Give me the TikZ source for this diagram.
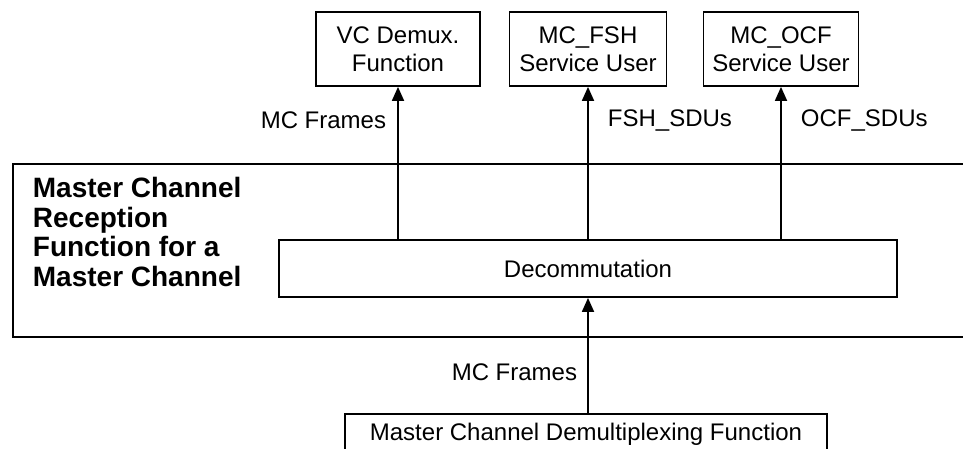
\documentclass[tikz,border=0pt]{standalone}
\usepackage{fontspec}
\setmainfont{Liberation Sans}
\usetikzlibrary{arrows.meta}

\begin{document}
\begin{tikzpicture}[x=1pt,y=-1pt,line width=1.8pt,
	box/.style={draw, rectangle, inner sep=0pt, align=center, font=\fontsize{24}{28}\selectfont},
	flow/.style={-{Triangle[length=14pt,width=12pt]}},
	lbl/.style={font=\fontsize{24}{28}\selectfont, inner sep=0pt}]
	\useasboundingbox (0,0) rectangle (963,449);
	\clip (0,0) rectangle (963,449);
	
	\node[box, minimum width=164pt, minimum height=74pt] (vcdemux) at (398,49) {VC Demux.\\Function};
	\node[box, minimum width=157pt, minimum height=74pt] (fshuser) at (588,49) {MC\_FSH\\Service User};
	\node[box, minimum width=155pt, minimum height=74pt] (ocfuser) at (781,49) {MC\_OCF\\Service User};
	
	% reception function, runs off the right edge
	\node[draw, inner sep=0pt, minimum width=1000pt, minimum height=173pt, anchor=north west] (mcrecept) at (12,163) {};
	\node[anchor=west, align=left, inner sep=0pt, font=\bfseries\fontsize{28}{29.5}\selectfont] (mctitle) at (32,232) {Master Channel\\Reception\\Function for a\\Master Channel};
	
	\node[box, minimum width=618pt, minimum height=57pt] (decomm) at (588,268.5) {Decommutation};
	
	\node[box, minimum width=482pt, minimum height=40pt, anchor=north] (mcdemux) at (586,413) {Master Channel Demultiplexing Function};
	
	\draw[flow] (decomm.north -| vcdemux) -- node[lbl, pos=.78, left=11pt] {MC Frames} (vcdemux);
	\draw[flow] (decomm.north -| fshuser) -- node[lbl, pos=.78, right=19pt] {FSH\_SDUs} (fshuser);
	\draw[flow] (decomm.north -| ocfuser) -- node[lbl, pos=.78, right=19pt] {OCF\_SDUs} (ocfuser);
	
	\draw[flow] (mcdemux.north -| decomm.south) -- node[lbl, pos=.35, left=10pt] {MC Frames} (decomm.south);
\end{tikzpicture}
\end{document}
